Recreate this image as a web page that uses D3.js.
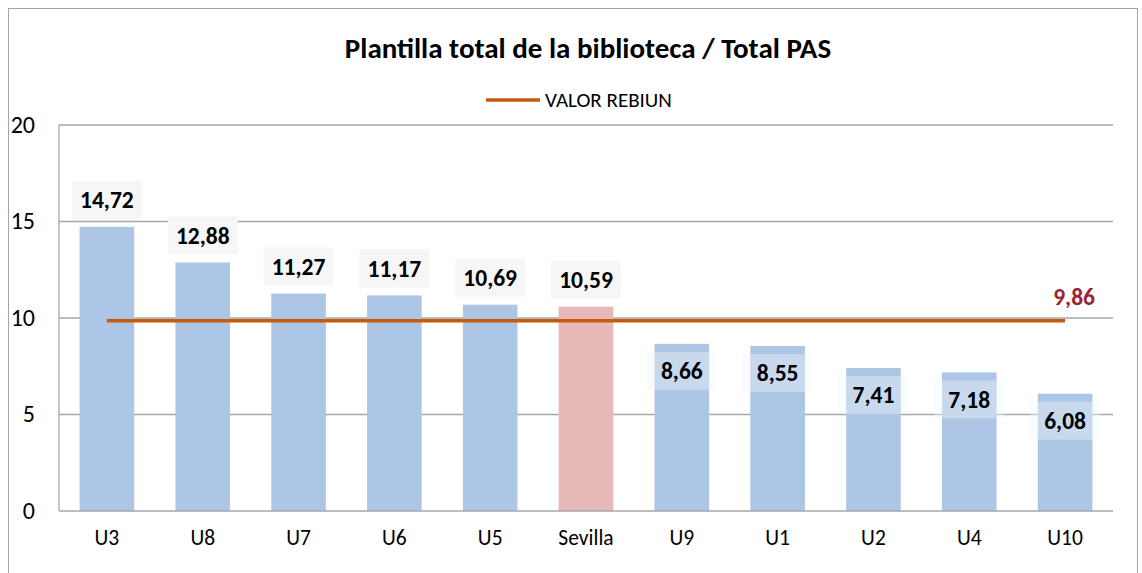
<!DOCTYPE html>
<html><head><meta charset="utf-8">
<script src="https://cdn.jsdelivr.net/npm/d3@7"></script>
<style>body{margin:0;background:#fff}svg{display:block}</style>
</head><body>
<script>
const categories = ["U3","U8","U7","U6","U5","Sevilla","U9","U1","U2","U4","U10"];
const values = [14.72,12.88,11.27,11.17,10.69,10.59,8.66,8.55,7.41,7.18,6.08];
const rebiun = 9.86;
const yTicks = [0,5,10,15,20];
const title = "Plantilla total de la biblioteca / Total PAS";
const legendLabel = "VALOR REBIUN";

const W = 1142, H = 573;
const font = "Carlito, Calibri, Lato, 'Open Sans', sans-serif";
const svg = d3.select("body").append("svg").attr("width", W).attr("height", H);
svg.append("rect").attr("x", 8.5).attr("y", 8.5).attr("width", 1129).attr("height", 580)
  .attr("fill", "#fff").attr("stroke", "#a6a6a6");

const L = 59, R = 1113, T = 125, B = 511;
const x = d3.scaleBand().domain(categories).range([L, R]).paddingInner(0.43).paddingOuter(0.215);
const y = d3.scaleLinear().domain([0, 20]).range([B, T]);
const fmt = v => v.toFixed(2).replace(".", ",");

// gridlines
svg.append("g").selectAll("line").data(yTicks.filter(t => t > 0)).join("line")
  .attr("x1", L).attr("x2", R).attr("y1", d => y(d)).attr("y2", d => y(d))
  .attr("stroke", "#a6a6a6").attr("stroke-width", 1.3);

// bars
svg.append("g").selectAll("rect").data(values).join("rect")
  .attr("x", (d, i) => x(categories[i])).attr("width", x.bandwidth())
  .attr("y", d => y(d)).attr("height", d => B - y(d))
  .attr("fill", (d, i) => categories[i] === "Sevilla" ? "#e6b9b8" : "#adc6e5");

// axes lines
svg.append("line").attr("x1", L).attr("x2", L).attr("y1", T).attr("y2", B).attr("stroke", "#a6a6a6").attr("stroke-width", 1.3);
svg.append("line").attr("x1", L).attr("x2", R).attr("y1", B).attr("y2", B).attr("stroke", "#a6a6a6").attr("stroke-width", 1.3);

// y tick labels
const yAxis = d3.axisLeft(y).tickValues(yTicks).tickSize(0).tickPadding(24).tickFormat(d3.format("d"));
const ya = svg.append("g").attr("transform", `translate(${L},0)`).call(yAxis);
ya.select(".domain").remove();
ya.selectAll("text").attr("font-family", font).attr("font-size", 24).attr("fill", "#000").attr("dy", "0.3em");

// x tick labels
const xAxis = d3.axisBottom(x).tickSize(0).tickPadding(19);
const xa = svg.append("g").attr("transform", `translate(0,${B})`).call(xAxis);
xa.select(".domain").remove();
xa.selectAll("text").attr("font-family", font).attr("font-size", 21.5).attr("fill", "#000");

// rebiun line
const line = d3.line().x(d => x(d) + x.bandwidth() / 2).y(() => y(rebiun));
svg.append("path").datum(categories).attr("d", line).attr("fill", "none")
  .attr("stroke", "#c55a11").attr("stroke-width", 3.5);
svg.append("text").attr("x", x(categories[categories.length - 1]) + x.bandwidth() / 2 + 9).attr("y", y(rebiun) - 16)
  .attr("text-anchor", "middle").attr("font-family", font).attr("font-weight", "bold").attr("font-size", 23.5)
  .attr("fill", "#9b2335").text(fmt(rebiun));

// data labels
const lab = svg.append("g");
values.forEach((v, i) => {
  const cx = x(categories[i]) + x.bandwidth() / 2;
  const outside = v > rebiun;
  const bw = 70, bh = 38;
  const top = outside ? y(v) - 8 - bh : y(v) + 8;
  lab.append("rect").attr("x", cx - bw / 2).attr("y", top).attr("width", bw).attr("height", bh)
    .attr("fill", outside ? "#f6f6f6" : "rgba(240,244,250,0.4)");
  lab.append("text").attr("x", cx).attr("y", top + bh / 2 + 8.5).attr("text-anchor", "middle")
    .attr("font-family", font).attr("font-weight", "bold").attr("font-size", 23.5).attr("fill", "#000").text(fmt(v));
});

// title
svg.append("text").attr("x", 588).attr("y", 58).attr("text-anchor", "middle")
  .attr("font-family", font).attr("font-weight", "bold").attr("font-size", 29).attr("fill", "#000").text(title);

// legend
svg.append("line").attr("x1", 486).attr("x2", 540).attr("y1", 100).attr("y2", 100).attr("stroke", "#c55a11").attr("stroke-width", 3.5);
svg.append("text").attr("x", 545).attr("y", 107).attr("font-family", font).attr("font-size", 21).attr("fill", "#000").text(legendLabel);
</script>
</body></html>
